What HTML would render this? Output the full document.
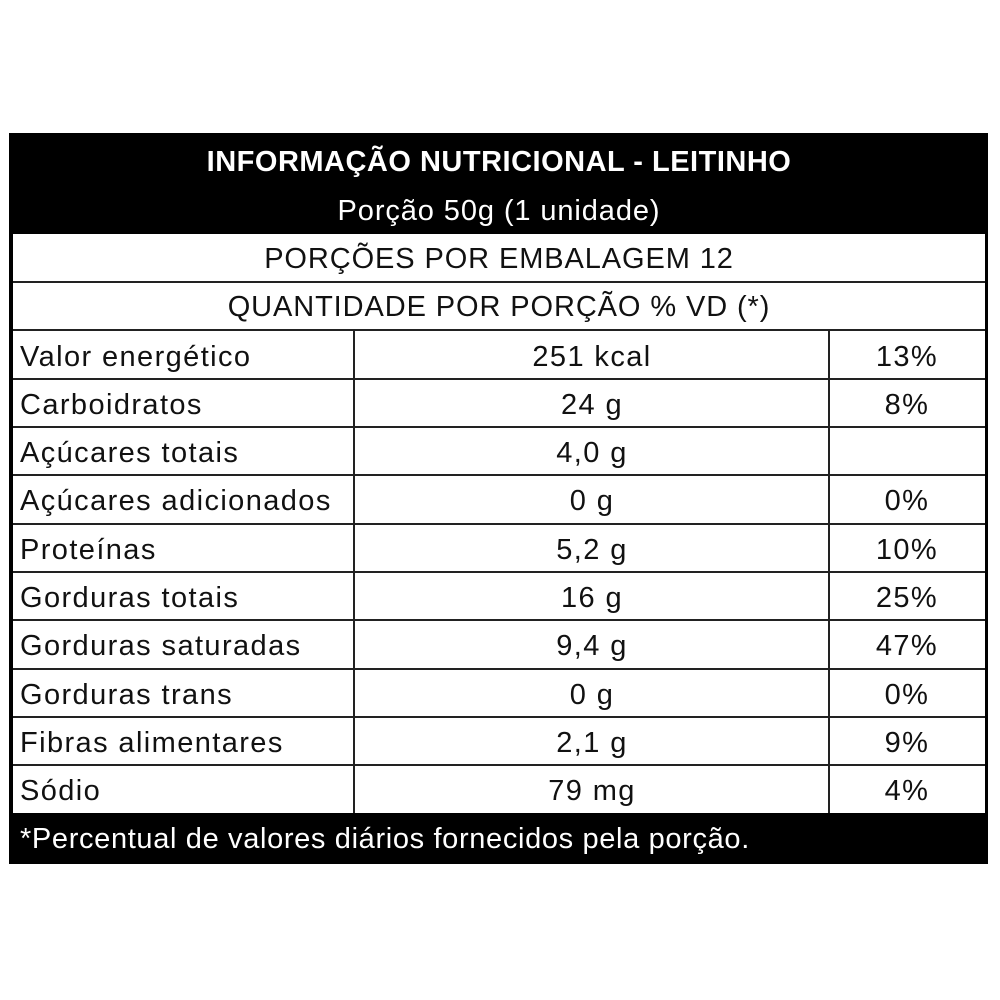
<!DOCTYPE html>
<html><head><meta charset="utf-8"><style>
body{margin:0;width:1000px;height:1000px;background:#fff;position:relative;font-family:"Liberation Sans",sans-serif;color:#111}
.a{position:absolute}
.hl{position:absolute;left:13px;width:972px;height:2px;background:#222}
.t{position:absolute;font-size:29px;line-height:32px;white-space:nowrap;letter-spacing:1.4px}
.c1{left:20px}
.c2{left:355px;width:474px;text-align:center}
.c3{left:829px;width:156px;text-align:center}
</style></head><body>
<div class="a" style="left:9px;top:133px;width:979px;height:731px;background:#000"></div>
<div class="a" style="left:13px;top:234px;width:972px;height:579px;background:#fff"></div>
<div class="t" style="left:13px;width:972px;top:146px;text-align:center;color:#fff;font-weight:bold;letter-spacing:0.5px">INFORMAÇÃO NUTRICIONAL - LEITINHO</div>
<div class="t" style="left:13px;width:972px;top:195px;text-align:center;color:#fff;letter-spacing:0.9px">Porção 50g (1 unidade)</div>
<div class="hl" style="top:281px"></div>
<div class="hl" style="top:329px"></div>
<div class="t" style="left:13px;width:972px;top:243px;text-align:center;letter-spacing:0.9px">PORÇÕES POR EMBALAGEM 12</div>
<div class="t" style="left:13px;width:972px;top:291px;text-align:center;letter-spacing:0.9px">QUANTIDADE POR PORÇÃO % VD (*)</div>
<div class="a" style="left:353px;top:330px;width:2px;height:483px;background:#222"></div>
<div class="a" style="left:828px;top:330px;width:2px;height:483px;background:#222"></div>
<div class="hl" style="top:378px"></div>
<div class="hl" style="top:426px"></div>
<div class="hl" style="top:474px"></div>
<div class="hl" style="top:523px"></div>
<div class="hl" style="top:571px"></div>
<div class="hl" style="top:619px"></div>
<div class="hl" style="top:668px"></div>
<div class="hl" style="top:716px"></div>
<div class="hl" style="top:764px"></div>

<div class="t c1" style="top:341px">Valor energético</div><div class="t c2" style="top:341px">251 kcal</div><div class="t c3" style="top:341px">13%</div>
<div class="t c1" style="top:389px">Carboidratos</div><div class="t c2" style="top:389px">24 g</div><div class="t c3" style="top:389px">8%</div>
<div class="t c1" style="top:437px">Açúcares totais</div><div class="t c2" style="top:437px">4,0 g</div>
<div class="t c1" style="top:485px">Açúcares adicionados</div><div class="t c2" style="top:485px">0 g</div><div class="t c3" style="top:485px">0%</div>
<div class="t c1" style="top:534px">Proteínas</div><div class="t c2" style="top:534px">5,2 g</div><div class="t c3" style="top:534px">10%</div>
<div class="t c1" style="top:582px">Gorduras totais</div><div class="t c2" style="top:582px">16 g</div><div class="t c3" style="top:582px">25%</div>
<div class="t c1" style="top:630px">Gorduras saturadas</div><div class="t c2" style="top:630px">9,4 g</div><div class="t c3" style="top:630px">47%</div>
<div class="t c1" style="top:679px">Gorduras trans</div><div class="t c2" style="top:679px">0 g</div><div class="t c3" style="top:679px">0%</div>
<div class="t c1" style="top:727px">Fibras alimentares</div><div class="t c2" style="top:727px">2,1 g</div><div class="t c3" style="top:727px">9%</div>
<div class="t c1" style="top:775px">Sódio</div><div class="t c2" style="top:775px">79 mg</div><div class="t c3" style="top:775px">4%</div>
<div class="t" style="left:20px;top:823px;color:#fff;font-size:29px;letter-spacing:0.65px">*Percentual de valores diários fornecidos pela porção.</div>
</body></html>
